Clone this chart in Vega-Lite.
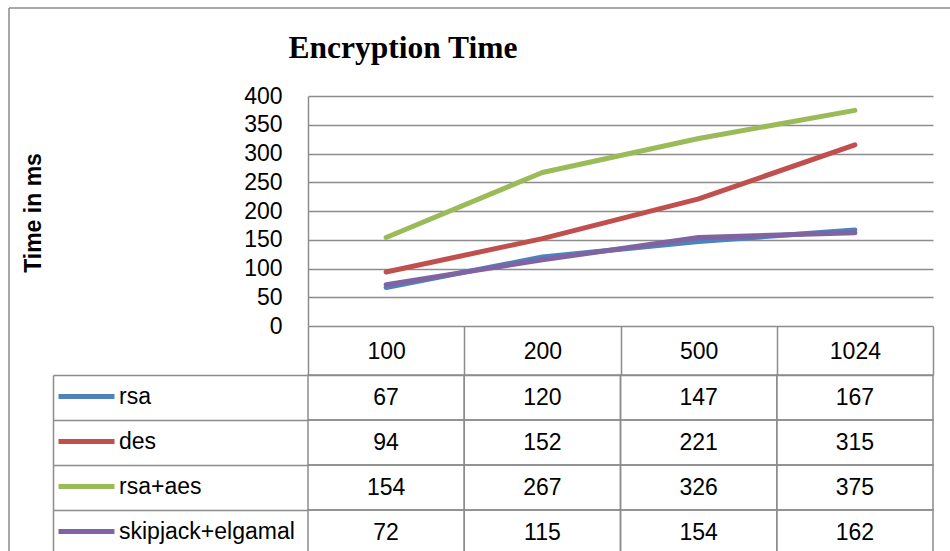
{
  "$schema": "https://vega.github.io/schema/vega-lite/v6.json",
  "width": 941,
  "height": 543,
  "autosize": "none",
  "padding": {"left": 9, "top": 8, "right": 0, "bottom": 0},
  "background": "white",
  "title": {"text": "Encryption Time", "font": "Liberation Serif", "fontSize": 31.5, "fontWeight": "bold", "color": "#000", "anchor": "middle", "frame": "group", "baseline": "alphabetic", "offset": 0, "dx": -76.5, "dy": 81},
  "config": {"view": {"stroke": "#8c8c8c", "strokeWidth": 1.5, "strokeDash": [941, 1484, 543, 0]}},
  "data": {"values": [
    {"series": "rsa", "size": "100", "time": 67},
    {"series": "rsa", "size": "200", "time": 120},
    {"series": "rsa", "size": "500", "time": 147},
    {"series": "rsa", "size": "1024", "time": 167},
    {"series": "des", "size": "100", "time": 94},
    {"series": "des", "size": "200", "time": 152},
    {"series": "des", "size": "500", "time": 221},
    {"series": "des", "size": "1024", "time": 315},
    {"series": "rsa+aes", "size": "100", "time": 154},
    {"series": "rsa+aes", "size": "200", "time": 267},
    {"series": "rsa+aes", "size": "500", "time": 326},
    {"series": "rsa+aes", "size": "1024", "time": 375},
    {"series": "skipjack+elgamal", "size": "100", "time": 72},
    {"series": "skipjack+elgamal", "size": "200", "time": 115},
    {"series": "skipjack+elgamal", "size": "500", "time": 154},
    {"series": "skipjack+elgamal", "size": "1024", "time": 162}
  ]},
  "layer": [
    {
      "mark": {"type": "line", "strokeWidth": 5, "strokeCap": "round", "strokeJoin": "round"},
      "encoding": {
        "x": {"field": "size", "type": "ordinal", "sort": null, "bandPosition": 0.5,
          "scale": {"type": "band", "domain": ["100", "200", "500", "1024"], "range": [299, 924], "paddingInner": 0, "paddingOuter": 0},
          "axis": {"orient": "top", "offset": -367, "title": null, "labelAngle": 0, "tickBand": "extent", "ticks": true, "tickSize": 49, "tickColor": "#8c8c8c", "tickWidth": 1.5, "domain": true, "domainColor": "#8c8c8c", "domainWidth": 1.5, "grid": false, "labelPadding": -25, "labelBaseline": "middle", "labelFont": "Liberation Sans", "labelFontSize": 23, "labelColor": "#000", "labelOverlap": false}},
        "y": {"field": "time", "type": "quantitative",
          "scale": {"domain": [0, 400], "range": [318, 88], "nice": false, "zero": true},
          "axis": {"orient": "left", "offset": -299, "values": [0, 50, 100, 150, 200, 250, 300, 350, 400], "grid": true, "gridColor": "#8c8c8c", "gridWidth": 1.5, "ticks": false, "tickSize": 0, "labelPadding": 26, "labelFont": "Liberation Sans", "labelFontSize": 23, "labelColor": "#000", "labelOverlap": false, "domain": true, "domainColor": "#8c8c8c", "domainWidth": 1.5,
            "title": "Time in ms", "titleFont": "Liberation Sans", "titleFontSize": 23, "titleFontWeight": "bold", "titleColor": "#000", "titleAngle": 270, "titleAlign": "center", "titleBaseline": "alphabetic", "titleX": -268, "titleY": 204.5}},
        "color": {"field": "series", "type": "nominal",
          "scale": {"domain": ["rsa", "des", "rsa+aes", "skipjack+elgamal"], "range": ["#4F81BD", "#C0504D", "#9BBB59", "#8064A2"]},
          "legend": {"orient": "none", "legendX": 47, "legendY": 366, "title": null, "direction": "vertical", "symbolType": "stroke", "symbolSize": 3136, "symbolStrokeWidth": 5, "labelFont": "Liberation Sans", "labelFontSize": 23, "labelColor": "#000", "labelOffset": 2, "labelLimit": 300, "clipHeight": 45, "rowPadding": 0, "padding": 0}},
        "order": {"value": null}
      }
    },
    {
      "layer": [
        {
          "mark": {"type": "rect", "filled": false, "stroke": "#8c8c8c", "strokeWidth": 1.5},
          "encoding": {
            "x": {"field": "size", "type": "ordinal", "sort": null,
              "scale": {"type": "band", "domain": ["100", "200", "500", "1024"], "range": [299, 924], "paddingInner": 0, "paddingOuter": 0}},
            "y": {"field": "series", "type": "nominal", "sort": null,
              "scale": {"type": "band", "domain": ["rsa", "des", "rsa+aes", "skipjack+elgamal"], "range": [367, 547], "paddingInner": 0, "paddingOuter": 0},
              "axis": {"orient": "right", "offset": -897, "title": null, "labels": false, "ticks": true, "tickBand": "extent", "tickSize": 255, "tickColor": "#8c8c8c", "tickWidth": 1.5, "domain": true, "domainColor": "#8c8c8c", "domainWidth": 1.5, "grid": false}}
          }
        },
        {
          "mark": {"type": "text", "font": "Liberation Sans", "fontSize": 23, "color": "#000", "baseline": "middle", "align": "center"},
          "encoding": {
            "x": {"field": "size", "type": "ordinal", "sort": null, "bandPosition": 0.5,
              "scale": {"type": "band", "domain": ["100", "200", "500", "1024"], "range": [299, 924], "paddingInner": 0, "paddingOuter": 0}},
            "y": {"field": "series", "type": "nominal", "sort": null, "bandPosition": 0.5,
              "scale": {"type": "band", "domain": ["rsa", "des", "rsa+aes", "skipjack+elgamal"], "range": [367, 547], "paddingInner": 0, "paddingOuter": 0}},
            "text": {"field": "time", "type": "quantitative"}
          }
        }
      ]
    }
  ],
  "resolve": {"scale": {"y": "independent"}, "axis": {"y": "independent"}}
}
